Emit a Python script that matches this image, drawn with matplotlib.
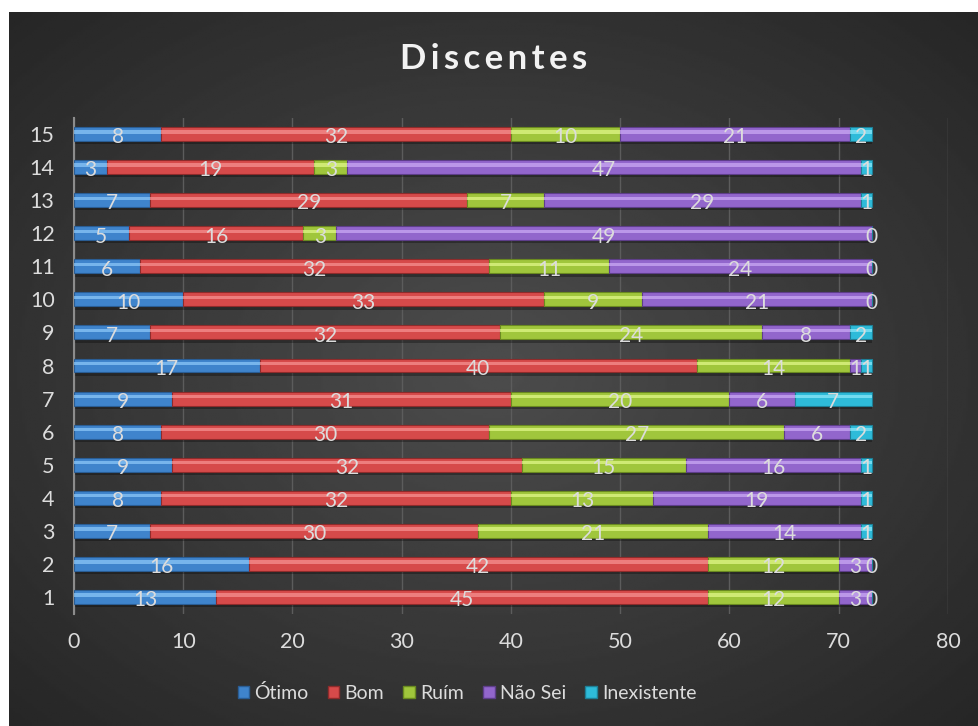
import numpy as np
import matplotlib.pyplot as plt
from matplotlib.patches import Patch

plt.rcParams['font.family'] = ['Lato', 'DejaVu Sans']

rows      = list(range(1, 16))
otimo     = [13, 16, 7, 8, 9, 8, 9, 17, 7, 10, 6, 5, 7, 3, 8]
bom       = [45, 42, 30, 32, 32, 30, 31, 40, 32, 33, 32, 16, 29, 19, 32]
ruim      = [12, 12, 21, 13, 15, 27, 20, 14, 24, 9, 11, 3, 7, 3, 10]
nao_sei   = [3, 3, 14, 19, 16, 6, 6, 1, 8, 21, 24, 49, 29, 47, 21]
inexist   = [0, 0, 1, 1, 1, 2, 7, 1, 2, 0, 0, 0, 1, 1, 2]
names     = ['Ótimo', 'Bom', 'Ruím', 'Não Sei', 'Inexistente']
xticks    = [0, 10, 20, 30, 40, 50, 60, 70, 80]

# base, highlight, edge
colors = [('#3f84cc', '#8ac6f7', '#2a5d94'),
          ('#d64a4a', '#f59090', '#8e2b2b'),
          ('#a0c63c', '#e0f788', '#6a8a20'),
          ('#9266cc', '#caa8f4', '#5e3e8a'),
          ('#2ebbd9', '#8ae6f8', '#1e7f96')]

fig = plt.figure(figsize=(9.79, 7.26), dpi=100, facecolor='white')

# dark radial background
bg = fig.add_axes([9/979, 0, 970/979, 714/726], zorder=-10)
yy, xx = np.mgrid[0:1:300j, 0:1:400j]
r = np.sqrt(((xx - 0.5) / 0.75) ** 2 + ((yy - 0.5) / 0.75) ** 2)
val = np.clip(0.30 - 0.16 * r, 0.15, 0.31)
bg.imshow(val, cmap='gray', vmin=0, vmax=1, aspect='auto', extent=[0, 1, 0, 1])
bg.axis('off')

ax = fig.add_axes([74/979, 1 - 613.5/726, (948 - 74)/979, (613.5 - 117.5)/726])
ax.set_facecolor('none')

series = [otimo, bom, ruim, nao_sei, inexist]
y = np.array(rows)
left = np.zeros(len(rows))
h = 0.42
for vals, (c, hl, ec) in zip(series, colors):
    vals = np.array(vals)
    ax.barh(y - 0.1, vals, left=left, height=h, color='black', alpha=0.3, zorder=2)
    ax.barh(y, vals, left=left, height=h, color=c, edgecolor=ec, linewidth=0.8, zorder=3)
    ax.barh(y + 0.06, vals, left=left, height=0.1, color=hl, alpha=0.75, zorder=4)
    for yi, l, v in zip(y, left, vals):
        ax.text(l + v / 2, yi - 0.1, str(v), ha='center', va='center',
                color='#dcdcdc', fontsize=15, zorder=5)
    left = left + vals

ax.set_xlim(0, 80)
ax.set_ylim(0.5, 15.5)
ax.set_xticks(xticks)
ax.set_yticks(rows)
ax.tick_params(colors='#dcdcdc', labelsize=15.5, length=0)
ax.tick_params(axis='x', pad=13)
ax.tick_params(axis='y', pad=14)
ax.grid(axis='x', color='#5c5c5c', linewidth=1, zorder=0)
ax.set_axisbelow(True)
for s in ['top', 'right', 'bottom']:
    ax.spines[s].set_visible(False)
ax.spines['left'].set_color('#8c8c8c')
ax.spines['left'].set_linewidth(1.5)

fig.text(494/979, 1 - 59/726, '\u2009'.join('Discentes'), ha='center', va='center',
         color='#f2f2f2', fontsize=25, fontweight='bold')

handles = [Patch(facecolor=c, edgecolor=ec) for c, hl, ec in colors]
fig.legend(handles, names, loc='center', bbox_to_anchor=(467/979, 1 - 693/726), ncol=5,
           frameon=False, fontsize=14, labelcolor='#dcdcdc', handlelength=0.6,
           handleheight=0.6, handletextpad=0.25, columnspacing=1.0)

fig.savefig('out.png', dpi=100, facecolor='white')
